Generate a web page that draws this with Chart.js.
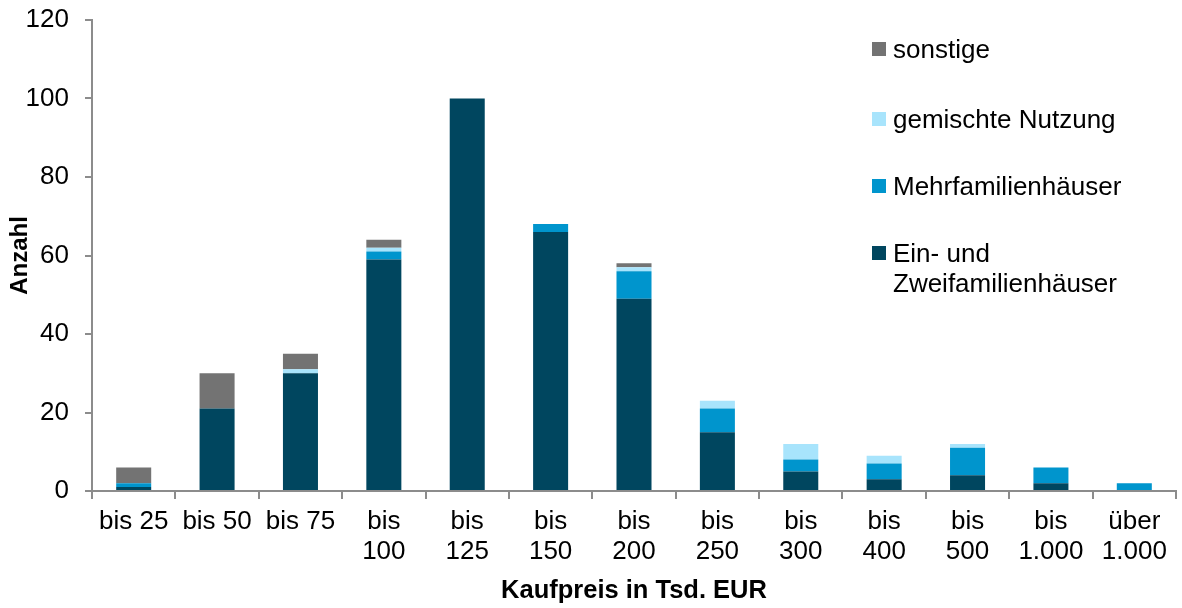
<!DOCTYPE html>
<html><head><meta charset="utf-8">
<script src="https://cdn.jsdelivr.net/npm/chart.js@4/dist/chart.umd.min.js"></script>
<style>
html,body{margin:0;padding:0;background:#fff;}
#wrap{position:relative;width:1182px;height:608px;font-family:"Liberation Sans",Arial,sans-serif;}
#legend{position:absolute;left:872px;top:34px;font-size:26px;color:#000;line-height:30px;}
.li{position:absolute;left:0;white-space:nowrap;}
.sw{position:absolute;left:0;width:14px;height:14px;}
.tx{position:absolute;left:21px;}
</style></head><body>
<div id="wrap"><canvas id="c" width="1182" height="608"></canvas>
<div id="legend"></div></div>
<script>
const categories = [["bis 25"],["bis 50"],["bis 75"],["bis","100"],["bis","125"],["bis","150"],["bis","200"],["bis","250"],["bis","300"],["bis","400"],["bis","500"],["bis","1.000"],["über","1.000"]];
const einZwei   = [1,21,30,59,100,66,49,15,5,3,4,2,0];
const mehr      = [1,0,0,2,0,2,7,6,3,4,7,4,2];
const gemischt  = [0,0,1,1,0,0,1,2,4,2,1,0,0];
const sonstige  = [4,9,4,2,0,0,1,0,0,0,0,0,0];
const yTicks = [0,20,40,60,80,100,120];

const colors = {ein:"#00465F", mehr:"#0095CD", gem:"#A8E4FC", son:"#737373"};
const axisColor = "#8C8C8C";
const font = {family:"'Liberation Sans', Arial, sans-serif", size:26};

const ds = [
  {label:"Ein- und Zweifamilienhäuser", data:einZwei, backgroundColor:colors.ein},
  {label:"Mehrfamilienhäuser", data:mehr, backgroundColor:colors.mehr},
  {label:"gemischte Nutzung", data:gemischt, backgroundColor:colors.gem},
  {label:"sonstige", data:sonstige, backgroundColor:colors.son}
];
ds.forEach(d=>{d.barPercentage=0.42;d.categoryPercentage=1.0;d.borderWidth=0;});

new Chart(document.getElementById('c'), {
  type:'bar',
  data:{labels:categories, datasets:ds},
  options:{
    responsive:false, animation:false,
    layout:{padding:{top:20,right:6,left:0,bottom:2}},
    plugins:{legend:{display:false}, tooltip:{enabled:false}},
    scales:{
      x:{stacked:true,
        afterFit:(s)=>{s.height=115;s.paddingLeft=0;s.paddingRight=0;},
        grid:{offset:true,drawOnChartArea:false,drawTicks:true,tickLength:8,color:axisColor,lineWidth:2},
        border:{display:true,color:axisColor,width:2},
        ticks:{color:"#000",font:Object.assign({},font,{lineHeight:1.15}),padding:8,maxRotation:0,autoSkip:false},
        title:{display:true,text:"Kaufpreis in Tsd. EUR",color:"#000",font:{family:font.family,size:25.5,weight:"bold"},padding:{top:0,bottom:0}}
      },
      y:{stacked:true,min:0,max:120,
        afterBuildTicks:(s)=>{s.ticks=yTicks.map(v=>({value:v}));},
        afterFit:(s)=>{s.width=92;s.paddingTop=0;s.paddingBottom=0;},
        grid:{drawOnChartArea:false,drawTicks:true,tickLength:7,color:axisColor,lineWidth:2},
        border:{display:true,color:axisColor,width:2},
        ticks:{color:"#000",font:font,padding:16},
        title:{display:true,text:"Anzahl",color:"#000",font:{family:font.family,size:24,weight:"bold"},padding:{top:6,bottom:0}}
      }
    }
  }
});

const legendItems = [
  {t:["sonstige"], c:colors.son, y:0},
  {t:["gemischte Nutzung"], c:colors.gem, y:70},
  {t:["Mehrfamilienhäuser"], c:colors.mehr, y:137},
  {t:["Ein- und","Zweifamilienhäuser"], c:colors.ein, y:204}
];
const lg = document.getElementById('legend');
legendItems.forEach(it=>{
  const d=document.createElement('div'); d.className='li'; d.style.top=it.y+'px';
  const s=document.createElement('div'); s.className='sw'; s.style.background=it.c; s.style.top='8px';
  const t=document.createElement('div'); t.className='tx'; t.innerHTML=it.t.join('<br>');
  d.appendChild(s); d.appendChild(t); lg.appendChild(d);
});
</script></body></html>
